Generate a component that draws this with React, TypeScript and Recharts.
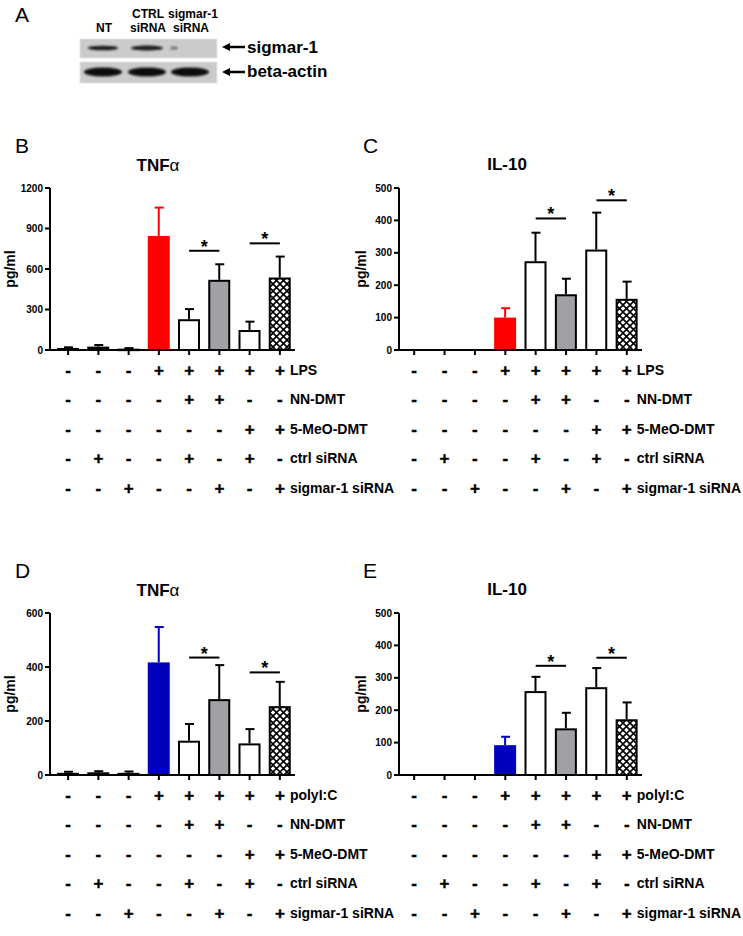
import { Bar, BarChart, ReferenceLine, XAxis, YAxis } from "recharts";

const FONT = '"Liberation Sans", Arial, sans-serif';

const categories = ["g1", "g2", "g3", "g4", "g5", "g6", "g7", "g8"];

// bar look per group: untreated, stimulus only, NN-DMT, NN-DMT + sigmar-1 siRNA, 5-MeO, 5-MeO + sigmar-1 siRNA
const barKinds = ["solid", "solid", "solid", "stim", "white", "gray", "white", "hatch"];

// pg/ml, mean and upper SEM
const tnfLpsMean = [15, 25, 10, 845, 228, 520, 148, 537];
const tnfLpsErr = [5, 12, 4, 210, 75, 115, 62, 155];
const il10LpsMean = [0, 0, 0, 100, 274, 172, 310, 158];
const il10LpsErr = [0, 0, 0, 29, 88, 48, 114, 53];
const tnfPolyMean = [8, 10, 8, 417, 127, 281, 117, 255];
const tnfPolyErr = [4, 4, 5, 131, 62, 126, 53, 90];
const il10PolyMean = [0, 0, 0, 92, 259, 144, 271, 172];
const il10PolyErr = [0, 0, 0, 26, 44, 48, 59, 52];

const tnfLpsTicks = [0, 300, 600, 900, 1200];
const il10Ticks = [0, 100, 200, 300, 400, 500];
const tnfPolyTicks = [0, 200, 400, 600];

// significance brackets: pairs of groups and height of the line
const sigPairs = [
	[4, 5],
	[6, 7],
];
const tnfLpsSig = [735, 790];
const il10LpsSig = [406, 462];
const tnfPolySig = [435, 380];
const il10PolySig = [337, 362];

// treatment table under the x axis
const stimSigns = ["-", "-", "-", "+", "+", "+", "+", "+"];
const nnDmtSigns = ["-", "-", "-", "-", "+", "+", "-", "-"];
const meoDmtSigns = ["-", "-", "-", "-", "-", "-", "+", "+"];
const ctrlSiSigns = ["-", "+", "-", "-", "+", "-", "+", "-"];
const sigmarSiSigns = ["-", "-", "+", "-", "-", "+", "-", "+"];
const tableRows = [stimSigns, nnDmtSigns, meoDmtSigns, ctrlSiSigns, sigmarSiSigns];
const lpsRowLabels = ["LPS", "NN-DMT", "5-MeO-DMT", "ctrl siRNA", "sigmar-1 siRNA"];
const polyRowLabels = ["polyI:C", "NN-DMT", "5-MeO-DMT", "ctrl siRNA", "sigmar-1 siRNA"];

const RED = "#ff0000";
const BLUE = "#0000bd";
const GRAY = "#a1a1a5";

function makeShape(stimColor: string) {
	return (p: any) => {
		const { x, y, width, height, index, payload } = p;
		if (!payload || !(payload.mean > 0)) return <g />;
		const kind = barKinds[index];
		const perUnit = height / payload.mean;
		const errTop = y - payload.err * perUnit;
		const cx = x + width / 2;
		const errColor = kind === "stim" ? stimColor : "#000";
		let body;
		if (kind === "stim") {
			body = <rect x={x} y={y} width={width} height={height} fill={stimColor} />;
		} else {
			const fill =
				kind === "solid" ? "#000" : kind === "gray" ? GRAY : kind === "hatch" ? "url(#xhatch)" : "#fff";
			body = (
				<rect
					x={x + 1}
					y={y + 1}
					width={width - 2}
					height={Math.max(height - 1, 0.5)}
					fill={fill}
					stroke="#000"
					strokeWidth={2}
				/>
			);
		}
		return (
			<g>
				{payload.err > 0 && (
					<g stroke={errColor} strokeWidth={2}>
						<line x1={cx} x2={cx} y1={y} y2={errTop} />
						<line x1={cx - 4} x2={cx + 5} y1={errTop} y2={errTop} />
					</g>
				)}
				{body}
			</g>
		);
	};
}

function makeTableTick(rowLabels: string[]) {
	return (p: any) => {
		const { x, y, payload } = p;
		const idx = categories.indexOf(payload.value);
		return (
			<g>
				{tableRows.map((row, r) => {
					const cy = y + 14.5 + r * 29.6;
					return (
						<g key={r}>
							<text
								x={x}
								y={cy + 6}
								textAnchor="middle"
								fontSize={17}
								fontWeight="bold"
								fill="#000"
								stroke="#000"
								strokeWidth={0.4}
							>
								{row[idx]}
							</text>
							{idx === categories.length - 1 && (
								<text x={x + 10} y={cy + 5} fontSize={14} fontWeight="bold" fill="#000">
									{rowLabels[r]}
								</text>
							)}
						</g>
					);
				})}
			</g>
		);
	};
}

const starLabel = (p: any) => {
	const vb = p.viewBox || {};
	const x = (vb.x ?? 0) + (vb.width ?? 0) / 2;
	const y = vb.y ?? 0;
	return (
		<text x={x} y={y + 2} textAnchor="middle" fontSize={18} fontWeight="bold" fill="#000">
			*
		</text>
	);
};

type PanelProps = {
	left: number;
	top: number;
	width: number;
	marginRight: number;
	axisWidth: number;
	padLeft: number;
	mean: number[];
	err: number[];
	ticks: number[];
	sig: number[];
	stimColor: string;
	rowLabels: string[];
};

function Panel(props: PanelProps) {
	const data = categories.map((c, i) => ({ cat: c, mean: props.mean[i], err: props.err[i] }));
	const yMax = props.ticks[props.ticks.length - 1];
	const axisStyle = { stroke: "#000", strokeWidth: 2 };
	return (
		<div style={{ position: "absolute", left: props.left, top: props.top }}>
			<BarChart
				width={props.width}
				height={370}
				data={data}
				margin={{ top: 58, right: props.marginRight, bottom: 0, left: 0 }}
			>
				<YAxis
					type="number"
					domain={[0, yMax]}
					ticks={props.ticks}
					interval={0}
					width={props.axisWidth}
					axisLine={axisStyle}
					tickLine={axisStyle}
					tickSize={5}
					tick={{ fill: "#000", fontSize: 10, fontWeight: "bold" }}
				/>
				<XAxis
					dataKey="cat"
					type="category"
					interval={0}
					height={150}
					padding={{ left: props.padLeft, right: 0 }}
					axisLine={axisStyle}
					tickLine={axisStyle}
					tickSize={5}
					tickMargin={0}
					tick={makeTableTick(props.rowLabels)}
				/>
				<Bar dataKey="mean" barSize={22} isAnimationActive={false} shape={makeShape(props.stimColor)} />
				{sigPairs.map((pair, k) => (
					<ReferenceLine
						key={k}
						segment={[
							{ x: categories[pair[0]], y: props.sig[k] },
							{ x: categories[pair[1]], y: props.sig[k] },
						]}
						stroke="#000"
						strokeWidth={2}
						ifOverflow="visible"
						label={{ content: starLabel }}
					/>
				))}
			</BarChart>
		</div>
	);
}

function Title({ x, y, name, alpha }: { x: number; y: number; name: string; alpha?: boolean }) {
	return (
		<text x={x} y={y} textAnchor="middle" fontSize={17} fontWeight="bold" fill="#000">
			{name}
			{alpha && <tspan fontWeight="normal">α</tspan>}
		</text>
	);
}

function YLabel({ x, y }: { x: number; y: number }) {
	return (
		<text
			x={x}
			y={y}
			transform={`rotate(-90 ${x} ${y})`}
			textAnchor="middle"
			fontSize={14}
			fontWeight="bold"
			fill="#000"
		>
			pg/ml
		</text>
	);
}

function Letter({ x, y, t }: { x: number; y: number; t: string }) {
	return (
		<text x={x} y={y} fontSize={21} fill="#000">
			{t}
		</text>
	);
}

function Blot() {
	const lanes = [103, 147, 190];
	return (
		<g>
			<defs>
				<filter id="blur1" x="-20%" y="-100%" width="140%" height="300%">
					<feGaussianBlur stdDeviation="1.1" />
				</filter>
			</defs>
			<rect x={80} y={39} width={137} height={19} fill="#cbcbcb" stroke="#e4e4e4" />
			<rect x={80} y={62} width={137} height={21} fill="#cbcbcb" stroke="#e4e4e4" />
			<g filter="url(#blur1)">
				<ellipse cx={lanes[0]} cy={48} rx={15} ry={2.3} fill="#1a1a1a" />
				<ellipse cx={lanes[1]} cy={48} rx={16} ry={2.5} fill="#1a1a1a" />
				<ellipse cx={174} cy={48} rx={4} ry={1.8} fill="#7a7a7a" />
				{lanes.map((cx) => (
					<ellipse key={cx} cx={cx} cy={72} rx={19} ry={4.5} fill="#111" />
				))}
			</g>
			<g fontSize={12} fontWeight="bold" fill="#000" textAnchor="middle">
				<text x={104} y={32}>NT</text>
				<text x={148} y={18}>CTRL</text>
				<text x={148} y={32}>siRNA</text>
				<text x={193} y={18}>sigmar-1</text>
				<text x={191} y={32}>siRNA</text>
			</g>
			<g stroke="#000" strokeWidth={2.5}>
				<line x1={227} x2={245} y1={47} y2={47} />
				<line x1={227} x2={245} y1={72} y2={72} />
			</g>
			<polygon points="222,47 230,43 230,51" fill="#000" />
			<polygon points="222,72 230,68 230,76" fill="#000" />
			<g fontSize={17} fontWeight="bold" fill="#000">
				<text x={247} y={53}>sigmar-1</text>
				<text x={247} y={77}>beta-actin</text>
			</g>
		</g>
	);
}

export default function App() {
	return (
		<div
			style={{
				position: "absolute",
				left: 0,
				top: 0,
				width: 743,
				height: 936,
				background: "#fff",
				fontFamily: FONT,
			}}
		>
			<svg width={0} height={0} style={{ position: "absolute" }}>
				<defs>
					<pattern id="xhatch" width={7} height={7} patternUnits="userSpaceOnUse">
						<rect width={7} height={7} fill="#fff" />
						<path d="M0,0 L7,7 M7,0 L0,7" stroke="#000" strokeWidth={1.6} />
					</pattern>
				</defs>
			</svg>

			<Panel left={0} top={130} width={400} marginRight={105} axisWidth={50} padLeft={3}
				mean={tnfLpsMean} err={tnfLpsErr} ticks={tnfLpsTicks} sig={tnfLpsSig}
				stimColor={RED} rowLabels={lpsRowLabels} />
			<Panel left={350} top={130} width={393} marginRight={101} axisWidth={49} padLeft={0}
				mean={il10LpsMean} err={il10LpsErr} ticks={il10Ticks} sig={il10LpsSig}
				stimColor={RED} rowLabels={lpsRowLabels} />
			<Panel left={0} top={555} width={400} marginRight={105} axisWidth={50} padLeft={3}
				mean={tnfPolyMean} err={tnfPolyErr} ticks={tnfPolyTicks} sig={tnfPolySig}
				stimColor={BLUE} rowLabels={polyRowLabels} />
			<Panel left={350} top={555} width={393} marginRight={101} axisWidth={49} padLeft={0}
				mean={il10PolyMean} err={il10PolyErr} ticks={il10Ticks} sig={il10PolySig}
				stimColor={BLUE} rowLabels={polyRowLabels} />

			<svg
				width={743}
				height={936}
				style={{ position: "absolute", left: 0, top: 0, pointerEvents: "none", fontFamily: FONT }}
			>
				<Blot />
				<Letter x={15} y={22} t="A" />
				<Letter x={15} y={153} t="B" />
				<Letter x={363} y={153} t="C" />
				<Letter x={15} y={578} t="D" />
				<Letter x={363} y={578} t="E" />
				<Title x={158} y={171} name="TNF" alpha />
				<Title x={507} y={170} name="IL-10" />
				<Title x={158} y={596} name="TNF" alpha />
				<Title x={507} y={595} name="IL-10" />
				<YLabel x={15} y={269} />
				<YLabel x={366} y={269} />
				<YLabel x={15} y={694} />
				<YLabel x={366} y={694} />
			</svg>
		</div>
	);
}
